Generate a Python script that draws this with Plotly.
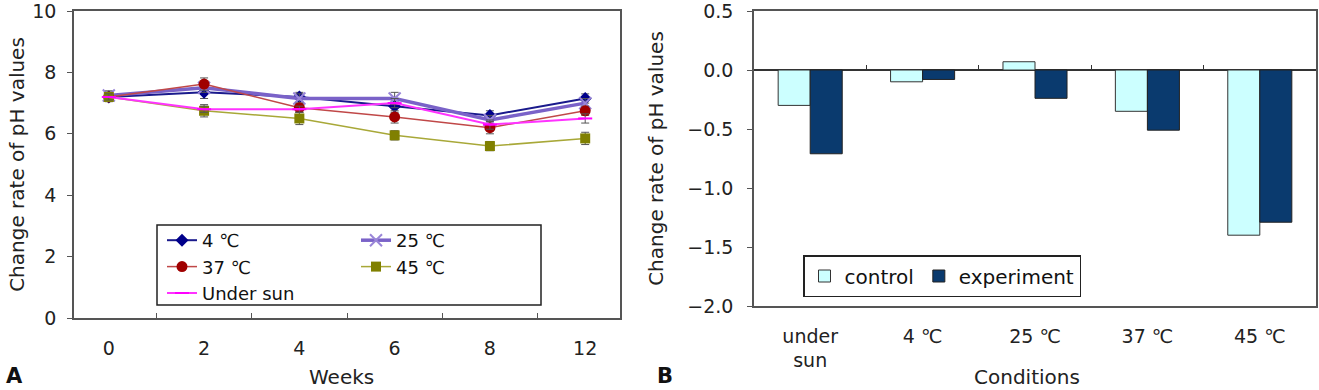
import plotly.graph_objects as go

# ---------------- data ----------------
weeks = ["0", "2", "4", "6", "8", "12"]
ph_4c = [7.20, 7.35, 7.20, 6.90, 6.60, 7.15]
ph_25c = [7.25, 7.50, 7.15, 7.15, 6.45, 7.00]
ph_37c = [7.20, 7.62, 6.85, 6.55, 6.20, 6.75]
ph_45c = [7.20, 6.75, 6.50, 5.95, 5.60, 5.85]
ph_sun = [7.20, 6.80, 6.80, 7.00, 6.30, 6.50]
err_4c = [0.15, 0.20, 0.15, 0.20, 0.15, 0.15]
err_25c = [0.15, 0.15, 0.15, 0.20, 0.15, 0.15]
err_37c = [0.15, 0.20, 0.15, 0.20, 0.20, 0.15]
err_45c = [0.15, 0.20, 0.20, 0.15, 0.15, 0.20]
err_sun = [0.10, 0.10, 0.10, 0.15, 0.15, 0.15]

conditions = ["under<br>sun", "4 ℃", "25 ℃", "37 ℃", "45 ℃"]
control = [-0.30, -0.10, 0.07, -0.35, -1.40]
experiment = [-0.71, -0.08, -0.24, -0.51, -1.29]

W, H = 1319, 390
FONT = "DejaVu Sans"


def px_x(p):
    return p / W


def px_y(p):
    return (H - p) / H


fig = go.Figure()

series = [
    ("4 ℃", ph_4c, err_4c, "#1a1a8c", 2, "diamond", 10, "#00008b", "legend"),
    ("25 ℃", ph_25c, err_25c, "#7a62c8", 3.5, "x-thin-open", 12, "#9a86d8", "legend2"),
    ("37 ℃", ph_37c, err_37c, "#c04848", 1.5, "circle", 11, "#a00000", "legend"),
    ("45 ℃", ph_45c, err_45c, "#a8a838", 1.5, "square", 10, "#808000", "legend2"),
    ("Under sun", ph_sun, err_sun, "#ff33ff", 2, "line-ew-open", 10, "#ff00ff", "legend"),
]
for name, vals, err, lc, lw, sym, ms, mc, leg in series:
    fig.add_trace(go.Scatter(
        x=weeks, y=vals, name=name, mode="lines+markers",
        line=dict(color=lc, width=lw),
        marker=dict(symbol=sym, size=ms, color=mc,
                    line=dict(color=mc, width=2 if "open" in sym else 0)),
        error_y=dict(type="data", array=err, visible=True, color="#555555",
                     thickness=1, width=4),
        xaxis="x", yaxis="y", legend=leg,
    ))

fig.add_trace(go.Bar(
    x=conditions, y=control, name="control",
    marker=dict(color="#ccffff", line=dict(color="#333333", width=1)),
    xaxis="x2", yaxis="y2", legend="legend3",
))
fig.add_trace(go.Bar(
    x=conditions, y=experiment, name="experiment",
    marker=dict(color="#0a3a6e", line=dict(color="#222222", width=1)),
    xaxis="x2", yaxis="y2", legend="legend3",
))

tickfont = dict(family=FONT, size=19, color="#222222")
titlefont = dict(family=FONT, size=20, color="#222222")
legfont = dict(family=FONT, size=18, color="#111111")

# right panel domain; the helper tick axis sits where y = 0 falls in it
y2_range = [-2.0, 0.5]
y2_dom = [px_y(306), px_y(11)]
zero_pos = y2_dom[0] + (0 - y2_range[0]) / (y2_range[1] - y2_range[0]) * (y2_dom[1] - y2_dom[0])

fig.update_layout(
    width=W, height=H,
    margin=dict(l=0, r=0, t=0, b=0),
    paper_bgcolor="white", plot_bgcolor="white",
    showlegend=True,
    barmode="group", bargap=0.43, bargroupgap=0.0,
    xaxis=dict(
        domain=[px_x(74), px_x(620)], anchor="y", type="category",
        categoryorder="array", categoryarray=weeks,
        showline=True, linecolor="#555555", linewidth=1.5, mirror=True,
        ticks="inside", tickson="boundaries", ticklen=5, tickcolor="#555555",
        tickfont=tickfont, ticklabelstandoff=12, showgrid=False, automargin=False,
    ),
    yaxis=dict(
        domain=[px_y(318), px_y(11)], anchor="x", range=[0, 10], dtick=2,
        showline=True, linecolor="#555555", linewidth=1.5, mirror=True,
        ticks="outside", ticklen=5, tickcolor="#555555", showgrid=False,
        zeroline=False, tickfont=tickfont, ticklabelstandoff=7, automargin=False,
        ticklabeloverflow="allow",
        title=dict(text="Change rate of pH values", font=titlefont, standoff=2),
    ),
    xaxis2=dict(
        domain=[px_x(754), px_x(1316)], anchor="y2", type="category",
        showline=True, linecolor="#555555", linewidth=1.5, mirror=True,
        ticks="", tickfont=tickfont, ticklabelstandoff=12, showgrid=False,
        automargin=False,
    ),
    xaxis3=dict(
        overlaying="x2", anchor="free", position=zero_pos, side="bottom",
        range=[-0.5, 4.5], tickvals=[0.5, 1.5, 2.5, 3.5], ticks="inside",
        ticklen=5, tickcolor="#333333", showticklabels=False, showline=False,
        showgrid=False, zeroline=False, automargin=False,
    ),
    yaxis2=dict(
        domain=y2_dom, anchor="x2", range=y2_range, dtick=0.5,
        tickformat=".1f",
        showline=True, linecolor="#555555", linewidth=1.5, mirror=True,
        ticks="outside", ticklen=5, tickcolor="#555555", showgrid=False,
        zeroline=True, zerolinecolor="#333333", zerolinewidth=1.5,
        tickfont=tickfont, ticklabelstandoff=10, automargin=False,
        ticklabeloverflow="allow",
        title=dict(text="Change rate of pH values", font=titlefont, standoff=18),
    ),
    legend=dict(
        x=px_x(162), y=px_y(222), xanchor="left", yanchor="top",
        orientation="v", bgcolor="rgba(0,0,0,0)", borderwidth=0,
        font=legfont, tracegroupgap=0,
    ),
    legend2=dict(
        x=px_x(356), y=px_y(222), xanchor="left", yanchor="top",
        orientation="v", bgcolor="rgba(0,0,0,0)", borderwidth=0,
        font=legfont, tracegroupgap=0,
    ),
    legend3=dict(
        x=px_x(803), y=px_y(255), xanchor="left", yanchor="top",
        orientation="h", bgcolor="white", bordercolor="#222222", borderwidth=1.5,
        font=dict(family=FONT, size=20, color="#111111"),
    ),
    shapes=[dict(
        type="rect", xref="paper", yref="paper",
        x0=px_x(157), x1=px_x(541), y0=px_y(305), y1=px_y(225),
        line=dict(color="#222222", width=1.5), fillcolor="white", layer="above",
    )],
    annotations=[
        dict(text="Weeks", x=px_x(341), y=px_y(377), xref="paper", yref="paper",
             showarrow=False, font=titlefont, xanchor="center", yanchor="middle"),
        dict(text="Conditions", x=px_x(1027), y=px_y(377), xref="paper", yref="paper",
             showarrow=False, font=titlefont, xanchor="center", yanchor="middle"),
        dict(text="<b>A</b>", x=px_x(14), y=px_y(376), xref="paper", yref="paper",
             showarrow=False, font=dict(family=FONT, size=21, color="#111111"),
             xanchor="center", yanchor="middle"),
        dict(text="<b>B</b>", x=px_x(665), y=px_y(376), xref="paper", yref="paper",
             showarrow=False, font=dict(family=FONT, size=21, color="#111111"),
             xanchor="center", yanchor="middle"),
    ],
)

# empty helper trace so the overlaying tick axis is rendered
fig.add_trace(go.Scatter(x=[], y=[], xaxis="x3", yaxis="y2", showlegend=False,
                         hoverinfo="skip"))

fig.write_html("out.html")
